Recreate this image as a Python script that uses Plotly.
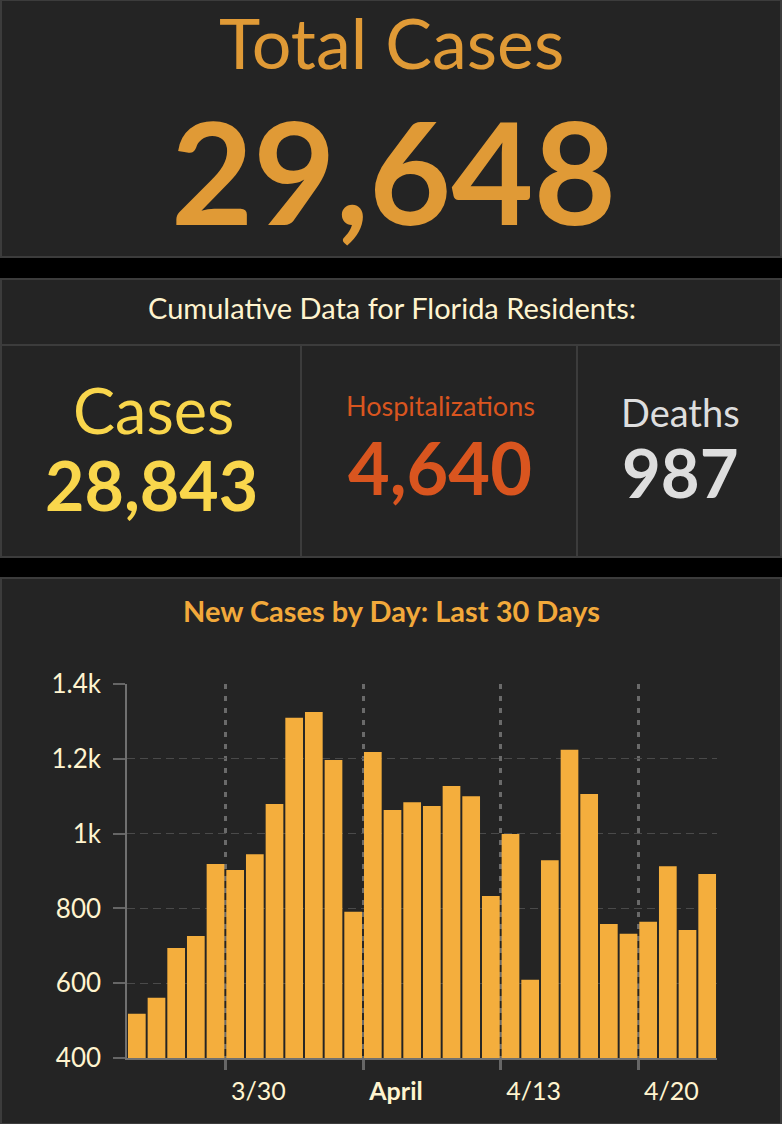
import plotly.graph_objects as go

# ---------------- data ----------------
dates = [
    "2020-03-25", "2020-03-26", "2020-03-27", "2020-03-28", "2020-03-29",
    "2020-03-30", "2020-03-31", "2020-04-01", "2020-04-02", "2020-04-03",
    "2020-04-04", "2020-04-05", "2020-04-06", "2020-04-07", "2020-04-08",
    "2020-04-09", "2020-04-10", "2020-04-11", "2020-04-12", "2020-04-13",
    "2020-04-14", "2020-04-15", "2020-04-16", "2020-04-17", "2020-04-18",
    "2020-04-19", "2020-04-20", "2020-04-21", "2020-04-22", "2020-04-23",
]
new_cases = [
    518, 561, 694, 726, 919,
    903, 945, 1079, 1310, 1325,
    1197, 791, 1218, 1063, 1084,
    1074, 1127, 1100, 833, 999,
    609, 929, 1224, 1106, 758,
    732, 764, 913, 742, 892,
]
x_tick_vals = ["2020-03-30", "2020-04-06", "2020-04-13", "2020-04-20"]
x_tick_text = ["3/30", "<b>April</b>", "4/13", "4/20"]
y_tick_vals = [400, 600, 800, 1000, 1200, 1400]
y_tick_text = ["400", "600", "800", "1k", "1.2k", "1.4k"]

total_cases = "29,648"
resident_cases = "28,843"
hospitalizations = "4,640"
deaths = "987"

# ---------------- layout helpers ----------------
W, H = 782, 1124
def px(x):
    return x / W
def py(y):
    return 1 - y / H

BG = "#242424"
BORDER = "#3c3c3c"
CREAM = "#FFF4CF"
FONT = "Lato"

fig = go.Figure()
fig.add_trace(go.Bar(
    x=dates, y=new_cases,
    xperiod=86400000, xperiodalignment="middle",
    marker=dict(color="#F4AE3D", line=dict(width=0)),
    hoverinfo="x+y",
))

shapes = []
def rect(x0, y0, x1, y1):
    shapes.append(dict(type="rect", xref="paper", yref="paper", layer="below",
                       x0=px(x0), x1=px(x1), y0=py(y0), y1=py(y1),
                       fillcolor=BG, line=dict(color=BORDER, width=2)))
def line(x0, y0, x1, y1):
    shapes.append(dict(type="line", xref="paper", yref="paper", layer="below",
                       x0=px(x0), x1=px(x1), y0=py(y0), y1=py(y1),
                       line=dict(color=BORDER, width=2)))

rect(1, 0, 781, 257)
rect(1, 279, 781, 557)
rect(1, 578, 781, 1124)
line(1, 345, 781, 345)
line(301, 345, 301, 557)
line(577, 345, 577, 557)

annotations = []
def text(s, x, y, size, color, bold=False):
    annotations.append(dict(
        text=f"<b>{s}</b>" if bold else s,
        x=px(x), y=py(y), xref="paper", yref="paper",
        xanchor="center", yanchor="middle", showarrow=False,
        font=dict(family=FONT, size=size, color=color)))

text("Total Cases", 391, 42, 70, "#E09A36")
text(total_cases, 393, 170, 142, "#E09A36", bold=True)
text("Cumulative Data for Florida Residents:", 392, 307, 29, CREAM)
text("Cases", 153, 409, 63, "#F9D64C")
text(resident_cases, 151, 485, 68, "#F9D64C", bold=True)
text("Hospitalizations", 440, 405, 27, "#D9551F")
text(hospitalizations, 440, 467, 72, "#D9551F", bold=True)
text("Deaths", 680, 412, 38, "#DEDEDE")
text(deaths, 680, 472, 67, "#DEDEDE", bold=True)
text("New Cases by Day: Last 30 Days", 391, 610, 29, "#F2A93B", bold=True)

fig.update_layout(
    width=W, height=H,
    margin=dict(l=0, r=0, t=0, b=0, pad=0, autoexpand=False),
    paper_bgcolor="#000000",
    plot_bgcolor="rgba(0,0,0,0)",
    font=dict(family=FONT, color=CREAM),
    showlegend=False,
    bargap=0.1,
    shapes=shapes,
    annotations=annotations,
    xaxis=dict(
        type="date",
        range=["2020-03-25", "2020-04-24"],
        domain=[px(127), px(717)],
        tickmode="array", tickvals=x_tick_vals, ticktext=x_tick_text,
        ticks="outside", ticklen=10, tickwidth=3, tickcolor="#666666",
        showgrid=True, gridcolor="#6a6a6a", gridwidth=3, griddash="5px,7px",
        showline=True, linecolor="#707070", linewidth=2,
        tickfont=dict(family=FONT, size=25, color=CREAM),
        ticklabelshift=33, ticklabelstandoff=0,
        zeroline=False, fixedrange=True, automargin=False,
    ),
    yaxis=dict(
        range=[400, 1400],
        domain=[py(1058), py(684)],
        tickmode="array", tickvals=y_tick_vals, ticktext=y_tick_text,
        ticks="outside", ticklen=12, tickwidth=1.5, tickcolor="#666666",
        showgrid=True, gridcolor="#4a4a4a", gridwidth=1, griddash="8px,5px",
        showline=True, linecolor="#707070", linewidth=1.5,
        tickfont=dict(family=FONT, size=26, color=CREAM),
        ticklabelstandoff=7,
        zeroline=False, fixedrange=True, automargin=False,
    ),
)

fig.write_html(
    "out.html",
    config={"displayModeBar": False},
    post_script="document.body.style.margin='0';document.body.style.padding='0';document.body.style.background='#000';",
)
